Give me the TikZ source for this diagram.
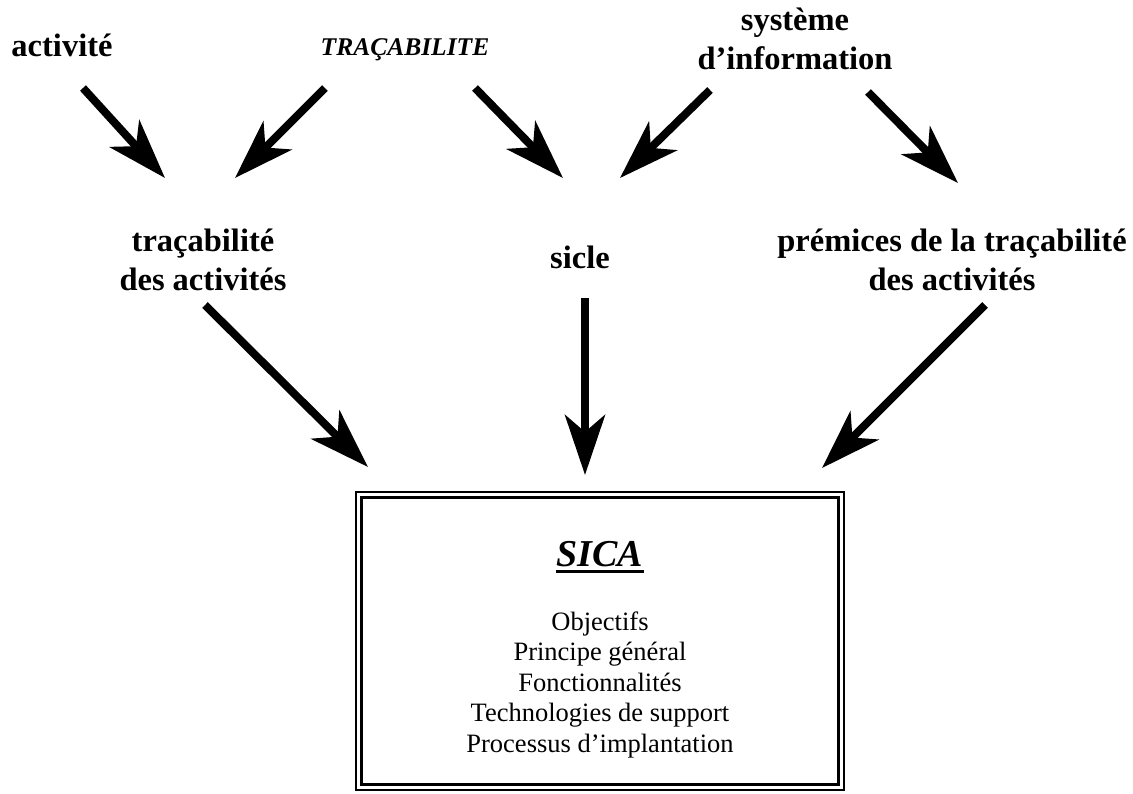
\documentclass[tikz,border=0pt]{standalone}
\usepackage{fontspec}
\setmainfont{Liberation Serif}
\usetikzlibrary{arrows.meta}
\begin{document}
\begin{tikzpicture}[x=1pt,y=-1pt,
  topic/.style={font=\fontsize{32.5}{39}\selectfont\bfseries, align=center, anchor=base, inner sep=0pt},
  theme/.style={font=\fontsize{25.5}{30}\selectfont\bfseries\itshape, anchor=base, inner sep=0pt},
  flow/.style={line width=8pt, -{Stealth[length=60pt,width=40pt,inset=17pt]}},
  frame/.style={draw, line width=2.5pt, double=white, double distance=3pt, inner sep=0pt},
  items/.style={font=\fontsize{26.5}{30.5}\selectfont, align=center, anchor=base, inner sep=0pt}]
\clip (0,0) rectangle (1133,793);
\fill[white] (0,0) rectangle (1133,793);

% sources and intermediate topics (multi-line nodes sit on their last baseline)
\node[topic] (activite) at (62,56) {activité};
\node[theme] (trac) at (405,55) {TRAÇABILITE};
\node[topic] (sysinfo) at (795,69) {système\\d’information};
\node[topic] (tracact) at (203,290) {traçabilité\\des activités};
\node[topic] (sicle) at (580,268) {sicle};
\node[topic] (premices) at (952,290) {prémices de la traçabilité\\des activités};

% central box
\node[frame, minimum width=482.5pt, minimum height=292.5pt] (sica) at (600,641) {};
\node[font=\fontsize{38}{40}\selectfont\bfseries\itshape, anchor=base, inner sep=0pt] (sicatitle) at (600,566) {SICA};
\draw[line width=3pt] ([yshift=-5.5pt]sicatitle.base west) -- ([yshift=-5.5pt]sicatitle.base east);
\node[items] (sicalist) at (600,752) {Objectifs\\Principe général\\Fonctionnalités\\Technologies de support\\Processus d’implantation};

% arrow end points
\coordinate (a1s) at (83,88);   \coordinate (a1e) at (165,178);
\coordinate (a2s) at (325,88);  \coordinate (a2e) at (235,178);
\coordinate (a3s) at (475,88);  \coordinate (a3e) at (563,178);
\coordinate (a4s) at (710,90);  \coordinate (a4e) at (620,178);
\coordinate (a5s) at (868,92);  \coordinate (a5e) at (958,183);
\coordinate (a6s) at (205,305); \coordinate (a6e) at (368,467);
\coordinate (a7s) at (585,298); \coordinate (a7e) at (585,475);
\coordinate (a8s) at (985,305); \coordinate (a8e) at (822,468);

\draw[flow] (a1s) -- (a1e);
\draw[flow] (a2s) -- (a2e);
\draw[flow] (a3s) -- (a3e);
\draw[flow] (a4s) -- (a4e);
\draw[flow] (a5s) -- (a5e);
\draw[flow] (a6s) -- (a6e);
\draw[flow] (a7s) -- (a7e);
\draw[flow] (a8s) -- (a8e);
\end{tikzpicture}
\end{document}
